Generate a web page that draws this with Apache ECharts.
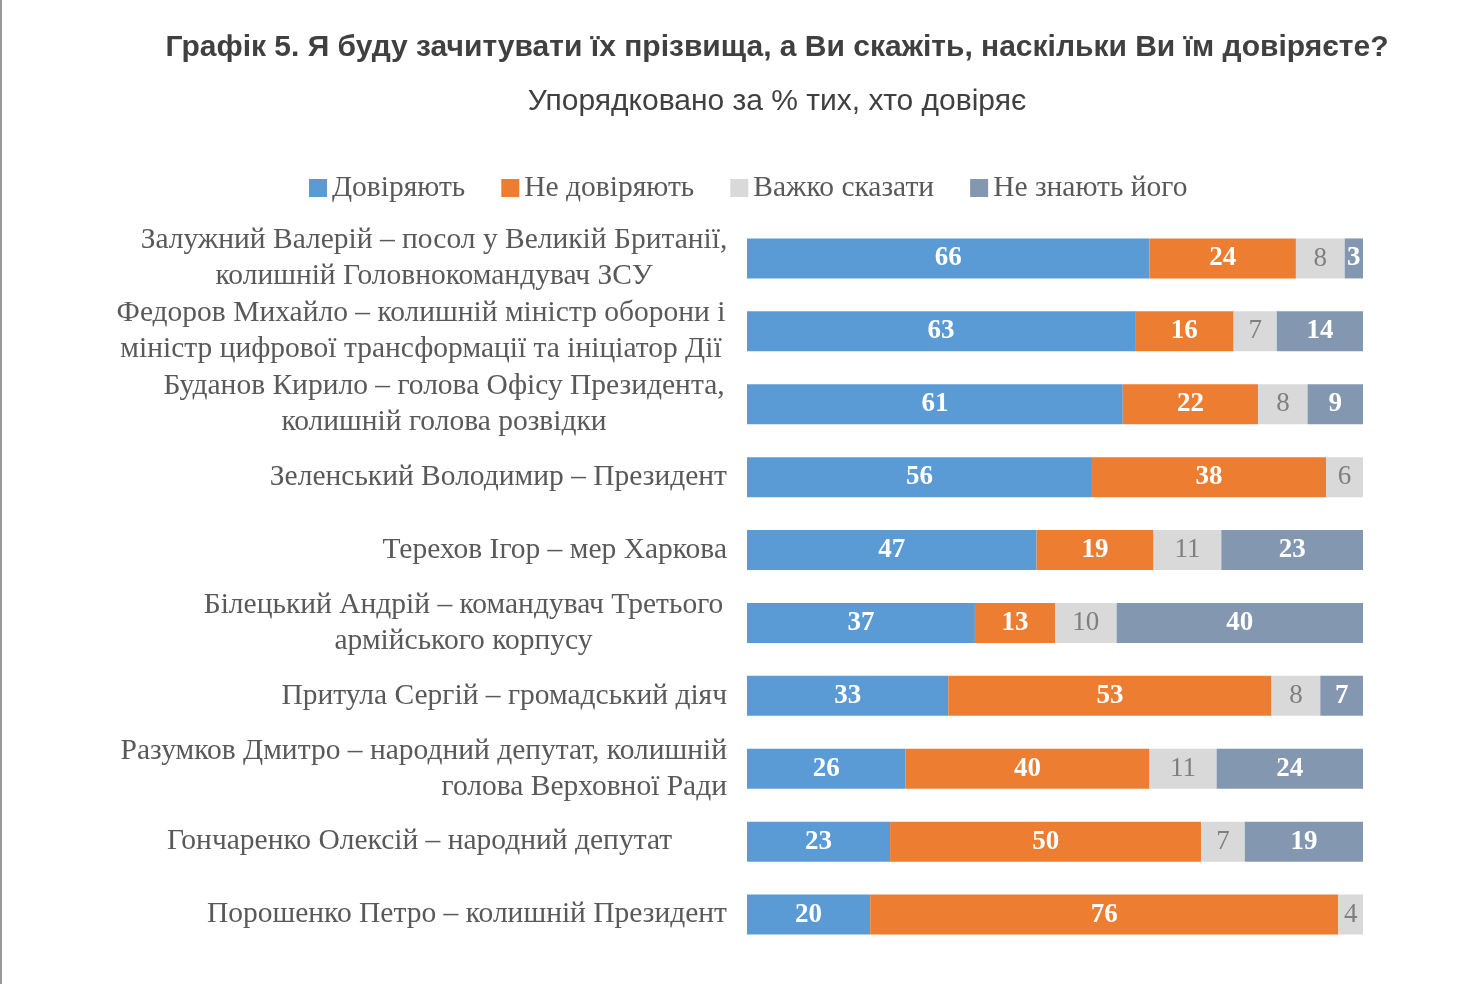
<!DOCTYPE html><html><head><meta charset="utf-8"><script src="https://cdn.jsdelivr.net/npm/echarts@6/dist/echarts.min.js"></script></head><body style="margin:0;background:#fff"><div id="c" style="width:1480px;height:984px;border-left:2px solid #999;box-sizing:border-box"></div><script>
const categories=["Залужний Валерій – посол у Великій Британії,\nколишній Головнокомандувач ЗСУ","Федоров Михайло – колишній міністр оборони і\nміністр цифрової трансформації та ініціатор Дії","Буданов Кирило – голова Офісу Президента,\nколишній голова розвідки","Зеленський Володимир – Президент","Терехов Ігор – мер Харкова","Білецький Андрій – командувач Третього\nармійського корпусу","Притула Сергій – громадський діяч","Разумков Дмитро – народний депутат, колишній\nголова Верховної Ради","Гончаренко Олексій – народний депутат","Порошенко Петро – колишній Президент"];
const trust=[66,63,61,56,47,37,33,26,23,20];
const distrust=[24,16,22,38,19,13,53,40,50,76];
const hard=[8,7,8,6,11,10,8,11,7,4];
const unknown=[3,14,9,0,23,40,7,24,19,0];
const names=["Довіряють","Не довіряють","Важко сказати","Не знають його"];
const colors=["#5B9BD5","#ED7D31","#D9D9D9","#8497B0"];
const raw=[trust,distrust,hard,unknown];
const sums=trust.map((_,i)=>raw.reduce((s,a)=>s+a[i],0));
const serif="'Liberation Serif','DejaVu Serif',serif";
const blockW=[586,612,566,0,0,527,0,0,615,0];
const catData=categories.map((c,i)=>blockW[i]?{value:c,textStyle:{align:'center',padding:[0,blockW[i],0,0]}}:{value:c});
const series=raw.map((arr,k)=>({name:names[k],type:'bar',stack:'s',barWidth:40,itemStyle:{color:colors[k]},
 data:arr.map((v,i)=>({value:v/sums[i]*100,raw:v})),
 label:{show:true,position:'inside',fontFamily:serif,fontSize:27,fontWeight:k==2?'normal':'bold',color:k==2?'#7f7f7f':'#fff',
  formatter:p=>p.data.raw>0?String(p.data.raw):''}}));
const ch=echarts.init(document.getElementById('c'));
ch.setOption({animation:false,
title:[{text:'Графік 5. Я буду зачитувати їх прізвища, а Ви скажіть, наскільки Ви їм довіряєте?',left:770,top:28,textAlign:'center',textStyle:{fontFamily:'Liberation Sans',fontSize:30,fontWeight:'bold',color:'#404040'}},
{text:'Упорядковано за % тих, хто довіряє',left:770,top:82,textAlign:'center',textStyle:{fontFamily:'Liberation Sans',fontSize:30,fontWeight:'normal',color:'#404040'}}],
legend:{top:168,left:302,itemWidth:18,itemHeight:18,itemGap:36,icon:'rect',textStyle:{fontFamily:serif,fontSize:29.5,color:'#595959'}},
grid:{left:745,right:117,top:222,bottom:33},
xAxis:{type:'value',min:0,max:100,show:false},
yAxis:{type:'category',inverse:true,data:catData,axisLine:{show:false},axisTick:{show:false},
 axisLabel:{fontFamily:serif,fontSize:29.5,color:'#595959',margin:20,align:'right',lineHeight:36}},
series});
</script></body></html>
